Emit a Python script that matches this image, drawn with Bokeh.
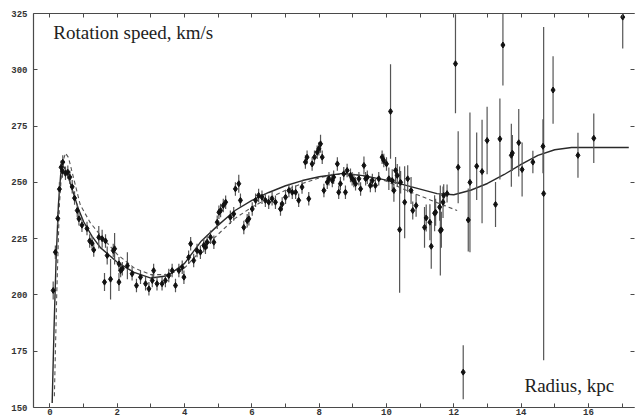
from bokeh.plotting import figure
from bokeh.models import Range1d, LinearAxis, SingleIntervalTicker, Label
from bokeh.embed import file_html
from bokeh.resources import INLINE

# ---- data ----
radius = [0.095, 0.16, 0.23, 0.28, 0.33, 0.37, 0.38, 0.46, 0.53, 0.59, 0.66, 0.73, 0.81, 0.86, 0.95,
          1.1, 1.18, 1.25, 1.3, 1.45, 1.55, 1.62, 1.65, 1.7, 1.8, 1.88, 1.92, 2.05, 2.05, 2.1, 2.15,
          2.3, 2.44, 2.57, 2.69, 2.84, 2.94, 3.04, 3.08, 3.18, 3.33, 3.43, 3.53, 3.63, 3.73, 3.83,
          3.93, 3.98, 4.12, 4.18, 4.27, 4.37, 4.47, 4.57, 4.62, 4.67, 4.77, 4.87, 4.97, 5.02, 5.07,
          5.15, 5.22, 5.36, 5.46, 5.51, 5.61, 5.66, 5.76, 5.86, 5.91, 6.01, 6.11, 6.2, 6.3, 6.4, 6.5,
          6.6, 6.7, 6.85, 6.9, 7.0, 7.1, 7.2, 7.3, 7.39, 7.49, 7.59, 7.64, 7.69, 7.79, 7.86, 7.94,
          7.99, 8.04, 8.09, 8.14, 8.24, 8.29, 8.39, 8.43, 8.54, 8.58, 8.63, 8.73, 8.78, 8.83, 8.93,
          8.98, 9.03, 9.08, 9.18, 9.23, 9.33, 9.38, 9.43, 9.52, 9.58, 9.67, 9.77, 9.87, 9.92, 10.0,
          10.07, 10.12, 10.17, 10.22, 10.27, 10.32, 10.39, 10.42, 10.54, 10.63, 10.73, 10.78, 10.88,
          11.13, 11.18, 11.29, 11.33, 11.43, 11.46, 11.58, 11.6, 11.63, 11.68, 11.7, 11.8, 12.05,
          12.13, 12.28, 12.43, 12.48, 12.68, 12.84, 12.99, 13.24, 13.37, 13.46, 13.71, 13.74, 13.93,
          14.03, 14.35, 14.65, 14.67, 14.95, 15.69, 16.16, 17.02]
speed = [202, 219, 234, 247, 256.7, 255, 259, 254, 254.5, 252.3, 248, 243, 237.5, 233.8, 231,
         229.5, 224, 223, 220, 225.6, 225, 205.7, 224, 217.5, 207, 219.7, 220.5, 213.8, 205.7, 210.8, 211.6,
         213, 209.4, 204.2, 207.9, 205, 202.7, 206.4, 210.8, 205, 205, 206.4, 208.6, 210.8, 204.2, 210.8,
         212.3, 207.9, 216.7, 222.7, 215.3, 219.7, 219, 222, 221.2, 223.4, 225.6, 223.4, 232.3, 236.7, 237.5,
         239.7, 241.2, 234.5, 236, 247.1, 249.4, 242, 230, 233, 233.8, 238.2, 242, 244.2, 243.4, 242, 241.2,
         242.7, 241.2, 238.2, 240.4, 243.4, 246.4, 245.6, 245.6, 242, 247.9, 259, 261.2, 242.7, 258.2, 261.2, 263.4,
         264.9, 267.1, 261.2, 246.4, 250.1, 251.6, 250.8, 252.3, 258.2, 245.6, 249.4, 253.8, 245.6, 255.3, 253.1,
         251.6, 250.8, 249.4, 251.6, 247.1, 257.5, 251.6, 252.3, 248.6, 250.8, 248.6, 251.6, 261.2, 259.7, 258.2,
         251.6, 281.5, 250.8, 246.4, 255.3, 253.1, 229, 250, 241.2, 251.6, 246.4, 237.5, 239.7,
         230, 234.2, 232.3, 221.6, 236.3, 236.7, 239, 228.6, 228.9, 241.2, 244.2, 245, 302.7,
         256.7, 165.7, 233.3, 250, 257.2, 254.8, 268.6, 240.2, 269.3, 311, 262, 263, 267.6,
         255.7, 259, 266, 245, 291, 262, 269.6, 323.4]
error = [4, 3, 3, 3, 3, 3, 3, 3, 3, 3, 3, 3, 3, 3, 3,
         3, 3, 3, 3, 5, 4, 4, 3, 4, 9, 3, 7, 3, 4, 3, 3,
         6, 3, 3, 3, 3, 3, 3, 3, 3, 3, 3, 3, 3, 3, 3,
         3, 3, 3, 3, 3, 3, 3, 3, 3, 3, 3, 3, 3, 3, 3,
         3, 3, 3, 3, 3, 4, 3, 3, 3, 3, 3, 3, 3, 3, 3, 3,
         3, 3, 3, 3, 3, 3, 3, 3, 3, 3, 3, 3, 3, 3, 3, 3,
         3, 4, 3, 3, 3, 3, 3, 3, 3, 3, 3, 3, 3, 3, 3,
         3, 3, 3, 3, 3, 4, 3, 3, 3, 3, 3, 3, 3, 3, 3,
         5, 21, 5, 5, 6, 5, 28, 5, 16, 6, 6, 4, 5,
         9, 6, 8, 10, 8, 6, 6, 20, 8, 7, 5, 4, 22,
         16, 12, 14, 31, 15, 23, 15, 10, 18, 18, 14, 8, 15,
         12, 5, 12, 74, 15, 10, 11, 14]

fit_r = [0.065, 0.12, 0.18, 0.25, 0.32, 0.38, 0.45, 0.55, 0.7, 0.85, 1.0, 1.25, 1.5, 2.0, 2.5, 3.0,
         3.5, 4.0, 4.5, 5.0, 5.5, 6.0, 6.5, 7.0, 7.5, 8.0, 8.7, 9.3, 10.0, 10.5, 11.0, 11.5, 12.0,
         12.5, 13.0, 13.5, 14.0, 14.5, 15.0, 15.5, 16.0, 17.2]
fit_v = [152, 185, 215, 240, 254, 257.5, 256, 252, 245, 238, 232.5, 226, 221, 214.5, 210, 207.5,
         208.5, 214, 224, 231, 237.5, 242, 245.5, 248.5, 250.8, 252.5, 254, 253, 251, 249, 247, 245, 244.5,
         246.5, 249.5, 253.5, 258, 262, 264.5, 265.5, 265.5, 265.5]

model_r = [0.13, 0.2, 0.28, 0.36, 0.46, 0.55, 0.7, 0.9, 1.2, 1.5, 2.0, 2.5, 3.0, 3.5, 4.0, 4.5,
           5.0, 5.5, 6.0, 6.5, 7.0, 7.5, 8.0, 8.5, 9.0, 9.5, 10.0, 10.5, 11.0, 11.5, 12.1]
model_v = [155, 200, 240, 258, 263, 261, 252, 240, 232, 226.5, 218, 212, 209, 209, 212, 220,
           227, 234, 239, 243, 246.5, 249.5, 252, 253.5, 253.5, 252.5, 250.5, 247, 244, 241, 237.5]

top_ticks = list(range(0, 18))
y_ticks = [150, 175, 200, 225, 250, 275, 300, 325]

p = figure(width=635, height=417, output_backend="svg", toolbar_location=None,
           x_range=Range1d(-0.49, 17.37), y_range=Range1d(150, 325),
           min_border_left=33, min_border_right=1, min_border_top=13, min_border_bottom=10,
           background_fill_color="white", border_fill_color="white")
p.outline_line_color = None
p.grid.visible = False

axis_col = "#4a4a4a"
lab_font = "Liberation Mono"

p.xaxis.ticker = SingleIntervalTicker(interval=2, num_minor_ticks=2)
p.yaxis.ticker = y_ticks
for ax in (p.xaxis[0], p.yaxis[0]):
    ax.axis_line_color = axis_col
    ax.axis_line_width = 1.2
    ax.major_tick_in = 4
    ax.major_tick_out = 0
    ax.minor_tick_in = 4
    ax.minor_tick_out = 0
    ax.major_tick_line_color = axis_col
    ax.minor_tick_line_color = axis_col
    ax.major_label_text_font = lab_font
    ax.major_label_text_font_style = "bold"
    ax.major_label_text_font_size = "9px"
    ax.major_label_text_color = "#333333"
p.xaxis.major_label_standoff = 1
p.yaxis.major_label_standoff = 6
p.yaxis.minor_tick_line_color = None

top = LinearAxis(ticker=top_ticks,
                 major_label_overrides={t: "" for t in top_ticks}, major_label_standoff=0,
                 major_tick_in=4, major_tick_out=0, minor_tick_line_color=None,
                 axis_line_color=axis_col, major_tick_line_color=axis_col, axis_line_width=1.2)
p.add_layout(top, "above")
right = LinearAxis(ticker=y_ticks,
                   major_label_overrides={t: "" for t in y_ticks}, major_label_standoff=0,
                   major_tick_in=4, major_tick_out=0, minor_tick_line_color=None,
                   axis_line_color=None, major_tick_line_color=axis_col)
p.add_layout(right, "right")

# model curves
p.line(model_r, model_v, line_color="#555555", line_width=1.1, line_dash="4 3")
p.line(fit_r, fit_v, line_color="#2a2a2a", line_width=1.4)

# error bars and points
lo = [v - e for v, e in zip(speed, error)]
hi = [v + e for v, e in zip(speed, error)]
p.segment(x0=radius, y0=lo, x1=radius, y1=hi, line_color="#555555", line_width=1.2)
p.scatter(radius, speed, marker="diamond", size=6, fill_color="#111111", line_color="#111111")

p.add_layout(Label(x=0.1, y=312, text="Rotation speed, km/s", text_font="Liberation Serif",
                   text_font_size="19px", text_color="#222222"))
p.add_layout(Label(x=14.1, y=155.3, text="Radius, kpc", text_font="Liberation Serif",
                   text_font_size="19px", text_color="#222222"))

open("out.html", "w").write(file_html(p, INLINE))
